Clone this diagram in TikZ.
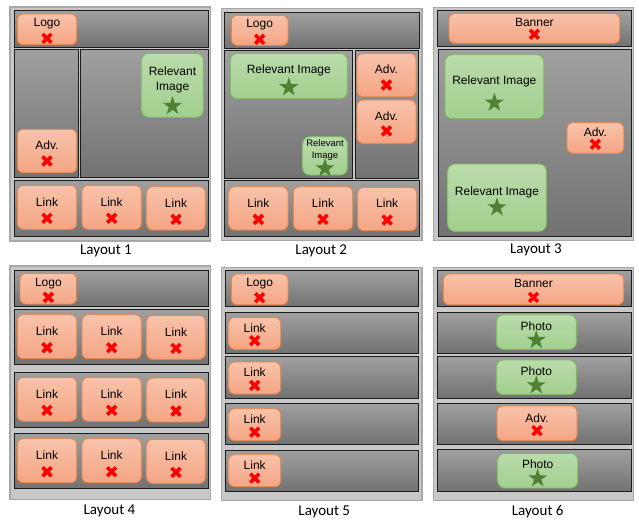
\documentclass[tikz,border=0pt]{standalone}
\usepackage{fontspec}
\setmainfont{Liberation Sans}
\newfontfamily\capfont{Carlito}
\usetikzlibrary{shapes.geometric,fit}
\definecolor{framefill}{HTML}{C8C8C8}
\definecolor{frameborder}{HTML}{A8A8A8}
\definecolor{bandborder}{HTML}{1C1C1C}
\definecolor{bandtop}{HTML}{A0A0A0}
\definecolor{bandbot}{HTML}{727272}
\definecolor{oborder}{HTML}{EE8544}
\definecolor{otop}{HTML}{F8C3AB}
\definecolor{obot}{HTML}{F4A584}
\definecolor{gborder}{HTML}{7DBB5C}
\definecolor{gtop}{HTML}{BADCAB}
\definecolor{gbot}{HTML}{A2CF8E}
\definecolor{stargreen}{HTML}{4F8033}
\definecolor{xred}{HTML}{FF0000}
\tikzset{
  frame/.style={draw=frameborder, fill=framefill, line width=1.2pt},
  band/.style={draw=bandborder, line width=0.9pt, top color=bandtop, bottom color=bandbot},
  obox/.style={draw=oborder, line width=0.9pt, rounded corners=6pt, top color=otop, bottom color=obot, inner sep=0pt},
  gbox/.style={draw=gborder, line width=0.9pt, rounded corners=7pt, top color=gtop, bottom color=gbot, inner sep=0pt},
  lbl/.style={font=\fontsize{12}{14.6}\selectfont, align=center, inner sep=0pt, text=black},
  captxt/.style={font=\capfont\fontsize{15}{18}\selectfont, inner sep=0pt, text=black},
  gstar/.style={star, star points=5, star point ratio=2.6, minimum size=20pt, inner sep=0pt, fill=stargreen, draw=none},
  redx/.pic={\draw[line width=3.6pt, xred] (-4.4,-4.4) -- (4.4,4.4) (-4.4,4.4) -- (4.4,-4.4);}
}
% orange box: name, x1, y1, x2, y2, label, cross offset
\newcommand{\OB}[7]{%
  \node[obox, fit={(#2,#3) (#4,#5)}] (#1) {};
  \node[lbl] (#1t) at ([yshift=5.5pt]#1.center) {#6};
  \path ([yshift=-#7pt]#1.center) pic {redx};
}
% green box: name, x1, y1, x2, y2, label, label offset, star offset, font
\newcommand{\GB}[9]{%
  \node[gbox, fit={(#2,#3) (#4,#5)}] (#1) {};
  \node[lbl, font=#9] (#1t) at ([yshift=#7pt]#1.center) {#6};
  \node[gstar] (#1s) at ([yshift=-#8pt]#1.center) {};
}
\begin{document}
\begin{tikzpicture}[x=1pt, y=-1pt]
\useasboundingbox[fill=white] (0,0) rectangle (639,520);
%% Layout 1
\draw[frame] (10,7) rectangle (210.7,241);
\draw[band] (14,10.7) rectangle (208,47.3);
\draw[band] (14,49.3) rectangle (78.4,177.3);
\draw[band] (80.4,49.3) rectangle (208,177.3);
\draw[band] (14,180) rectangle (208,236);
\OB{logoA}{17.3}{14}{76.7}{44.7}{Logo}{9}
\GB{riA}{141.7}{53.3}{203.3}{117.3}{Relevant\\Image}{5.3}{20.7}{\fontsize{12}{14.6}\selectfont}
\OB{advA}{17.3}{129.3}{76.7}{172.7}{Adv.}{10}
\OB{linkAa}{17.3}{185.3}{76.7}{229.3}{Link}{11}
\OB{linkAb}{82}{185.3}{141.3}{229.3}{Link}{11}
\OB{linkAc}{146.7}{186.7}{205.3}{230}{Link}{11}
\node[captxt] (capA) at (106,251) {Layout 1};
%% Layout 2
\draw[frame] (221.3,8.3) rectangle (422,240.7);
\draw[band] (224.7,12) rectangle (419.3,48.7);
\draw[band] (224.7,50) rectangle (352.8,178.7);
\draw[band] (355.2,50) rectangle (418.7,178.7);
\draw[band] (224.7,180.7) rectangle (419.3,236.7);
\OB{logoB}{231.3}{15.3}{288}{45.3}{Logo}{9}
\GB{riBa}{230.3}{53.3}{347.3}{98.7}{Relevant Image}{6}{11.3}{\fontsize{12}{14.6}\selectfont}
\GB{riBb}{302.7}{136.7}{347.3}{175}{Relevant\\Image}{5.6}{12.5}{\fontsize{9.5}{11.7}\selectfont}
\OB{advBa}{357}{53.3}{416}{96.7}{Adv.}{10}
\OB{advBb}{357}{100}{416}{143.3}{Adv.}{9.3}
\OB{linkBa}{228.7}{186.7}{288}{230}{Link}{11}
\OB{linkBb}{293.3}{186.7}{352.7}{230}{Link}{11}
\OB{linkBc}{357.7}{187.3}{416.7}{230.7}{Link}{11}
\node[captxt] (capB) at (321.3,251) {Layout 2};
%% Layout 3
\draw[frame] (433.3,7.3) rectangle (633.7,240.7);
\draw[band] (437,10.7) rectangle (631,46.7);
\draw[band] (438.3,49.3) rectangle (631,236);
\OB{bannerC}{449}{13.3}{619.7}{43.3}{Banner}{6}
\GB{riCa}{445}{54.7}{543.7}{118.7}{Relevant Image}{5}{16}{\fontsize{12}{14.6}\selectfont}
\OB{advC}{567}{122.7}{623.7}{153.3}{Adv.}{6.3}
\GB{riCb}{447.7}{164}{546.3}{231.3}{Relevant Image}{5.3}{9.7}{\fontsize{12}{14.6}\selectfont}
\node[captxt] (capC) at (536,250) {Layout 3};
%% Layout 4
\draw[frame] (10,266) rectangle (210.7,499.3);
\draw[band] (14,270) rectangle (208,306);
\draw[band] (14,309.3) rectangle (208,364.7);
\draw[band] (14,372) rectangle (208,427.3);
\draw[band] (14,433.3) rectangle (208,488.7);
\OB{logoD}{20}{273.3}{76.7}{304}{Logo}{8.7}
\OB{linkDa}{17.3}{314.7}{76.7}{358.7}{Link}{11}
\OB{linkDb}{82}{314.7}{141.3}{358.7}{Link}{11}
\OB{linkDc}{146.7}{315.3}{205.3}{359.3}{Link}{11}
\OB{linkDd}{17.3}{377.3}{76.7}{421.3}{Link}{11}
\OB{linkDe}{82}{377.3}{141.3}{421.3}{Link}{11}
\OB{linkDf}{146.7}{378}{205.3}{422}{Link}{11}
\OB{linkDg}{17.3}{438.7}{76.7}{482.7}{Link}{11}
\OB{linkDh}{82}{438.7}{141.3}{482.7}{Link}{11}
\OB{linkDi}{146.7}{439.3}{205.3}{483.3}{Link}{11}
\node[captxt] (capD) at (109.5,510.7) {Layout 4};
%% Layout 5
\draw[frame] (221.3,267.3) rectangle (422,500.7);
\draw[band] (225.3,270.7) rectangle (418.7,306.7);
\draw[band] (225.3,312) rectangle (418.7,353.3);
\draw[band] (225.3,356.7) rectangle (418.7,398);
\draw[band] (225.3,403.3) rectangle (418.7,444.3);
\draw[band] (225.3,450) rectangle (418.7,491.3);
\OB{logoE}{231.3}{274}{288}{304.7}{Logo}{8.4}
\OB{linkEa}{228.7}{317.3}{280.7}{349.3}{Link}{7.4}
\OB{linkEb}{228.7}{362}{280.7}{394}{Link}{7.4}
\OB{linkEc}{228.7}{408.7}{280.7}{440.7}{Link}{7.4}
\OB{linkEd}{228.7}{454.7}{280.7}{486.7}{Link}{7.4}
\node[captxt] (capE) at (324.3,512) {Layout 5};
%% Layout 6
\draw[frame] (433.3,267.3) rectangle (633.7,500.7);
\draw[band] (437,270.7) rectangle (631,306.7);
\draw[band] (437,312) rectangle (631,353.3);
\draw[band] (437,356.7) rectangle (631,398);
\draw[band] (437,403.3) rectangle (631,444.3);
\draw[band] (437,449.3) rectangle (631,491.3);
\OB{bannerF}{443.3}{274}{623.7}{304.7}{Banner}{8}
\GB{photoFa}{496.3}{314.7}{576.3}{349.3}{Photo}{5.7}{8}{\fontsize{12}{14.6}\selectfont}
\GB{photoFb}{496.3}{360}{576.3}{394.7}{Photo}{5.7}{8}{\fontsize{12}{14.6}\selectfont}
\OB{advF}{497}{406}{577}{440.7}{Adv.}{7.3}
\GB{photoFc}{497.7}{453.3}{577.7}{488}{Photo}{6.7}{7.7}{\fontsize{12}{14.6}\selectfont}
\node[captxt] (capF) at (537.7,512) {Layout 6};
\end{tikzpicture}
\end{document}
